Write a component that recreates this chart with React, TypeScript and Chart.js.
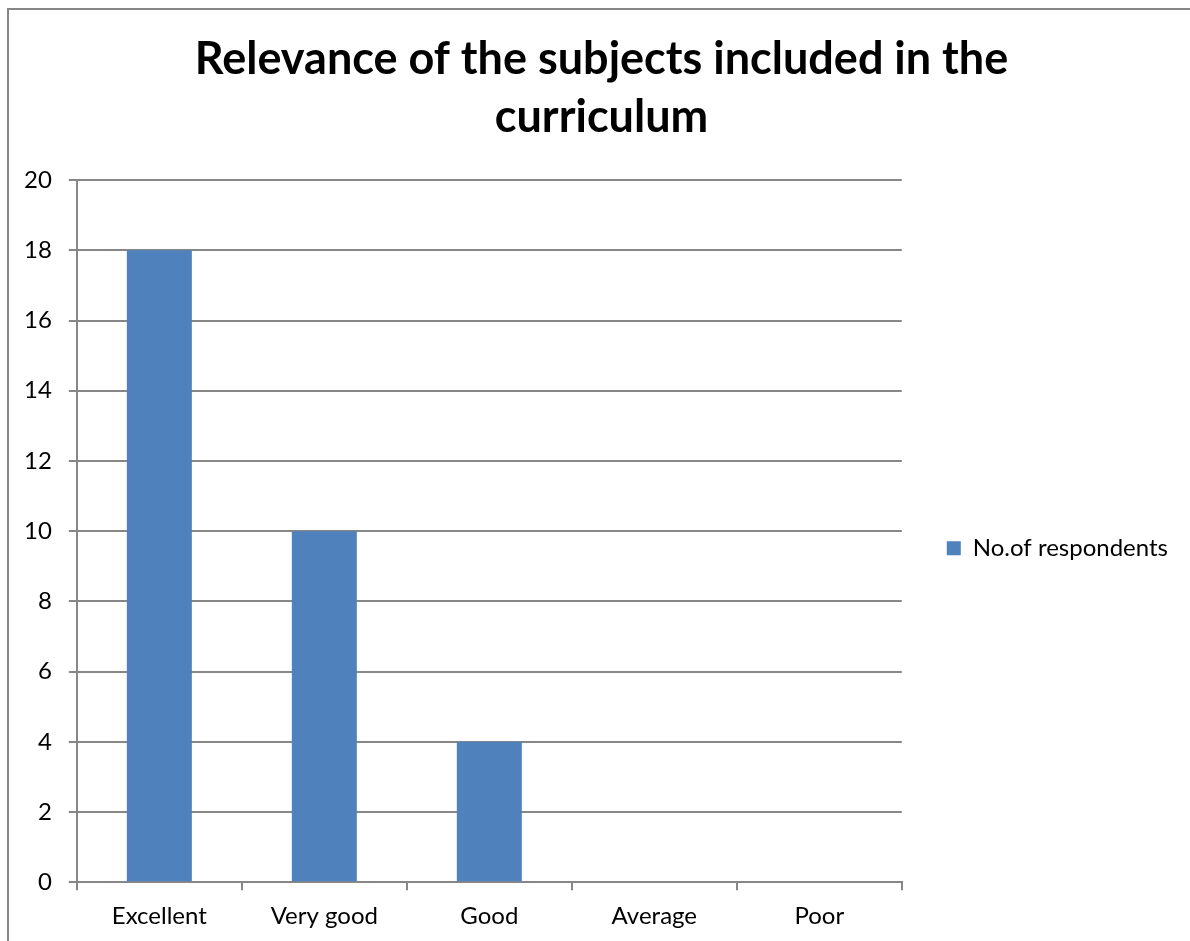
import React, { useEffect, useRef } from "react";
import { Chart, registerables } from "chart.js";

Chart.register(...registerables);

const categories = ["Excellent", "Very good", "Good", "Average", "Poor"];
const respondents = [18, 10, 4, 0, 0];
const seriesName = "No.of respondents";
const titleLines = ["Relevance of the subjects included in the", "curriculum"];
const yTicks = { min: 0, max: 20, step: 2 };

const FONT = "Lato, 'Open Sans', sans-serif";
const GRID = "#878787";

const framePlugin = {
  id: "frame",
  beforeDraw(chart: any) {
    const ctx = chart.ctx;
    ctx.save();
    ctx.fillStyle = "#ffffff";
    ctx.fillRect(0, 0, chart.width, chart.height);
    ctx.strokeStyle = GRID;
    ctx.lineWidth = 2;
    ctx.beginPath();
    ctx.moveTo(8, chart.height + 5);
    ctx.lineTo(8, 9);
    ctx.lineTo(chart.width + 5, 9);
    ctx.stroke();
    ctx.restore();
  },
};

export default function App() {
  const ref = useRef<HTMLCanvasElement>(null);
  useEffect(() => {
    if (!ref.current) return;
    const chart = new Chart(ref.current, {
      type: "bar",
      data: {
        labels: categories,
        datasets: [
          {
            label: seriesName,
            data: respondents,
            backgroundColor: "#4F81BD",
            borderWidth: 0,
            categoryPercentage: 1,
            barPercentage: 0.394,
          },
        ],
      },
      options: {
        animation: false,
        responsive: false,
        devicePixelRatio: 1,
        layout: { padding: { left: 25, right: 12, top: 0, bottom: 10 } },
        plugins: {
          title: {
            display: true,
            text: titleLines,
            color: "#000000",
            font: { family: FONT, size: 45, weight: "bold", lineHeight: 1.29 },
            padding: { top: 30, bottom: 34 },
          },
          legend: {
            position: "right",
            fullSize: false,
            title: { display: true, text: "", font: { size: 10, lineHeight: 1.2 }, padding: 11 },
            labels: {
              boxWidth: 14,
              boxHeight: 14,
              padding: 45,
              color: "#000000",
              font: { family: FONT, size: 24 },
            },
          },
          tooltip: { enabled: false },
        },
        scales: {
          x: {
            offset: true,
            afterFit: (scale: any) => {
              scale.height = scale.height - 12;
            },
            grid: {
              display: true,
              offset: true,
              drawOnChartArea: false,
              drawTicks: true,
              tickLength: 8,
              color: GRID,
              lineWidth: 2,
            },
            border: { display: true, color: GRID, width: 2 },
            ticks: { color: "#000000", padding: 12, font: { family: FONT, size: 24 } },
          },
          y: {
            min: yTicks.min,
            max: yTicks.max,
            afterFit: (scale: any) => {
              scale.width = scale.width - 18;
            },
            ticks: {
              stepSize: yTicks.step,
              color: "#000000",
              padding: 17,
              font: { family: FONT, size: 24 },
            },
            grid: { color: GRID, lineWidth: 2, tickLength: 8 },
            border: { display: true, color: GRID, width: 2 },
          },
        },
      },
      plugins: [framePlugin],
    });
    return () => chart.destroy();
  }, []);
  return (
    <div style={{ position: "absolute", left: 0, top: 0, width: 1190, height: 941 }}>
      <canvas ref={ref} width={1190} height={941} />
    </div>
  );
}
